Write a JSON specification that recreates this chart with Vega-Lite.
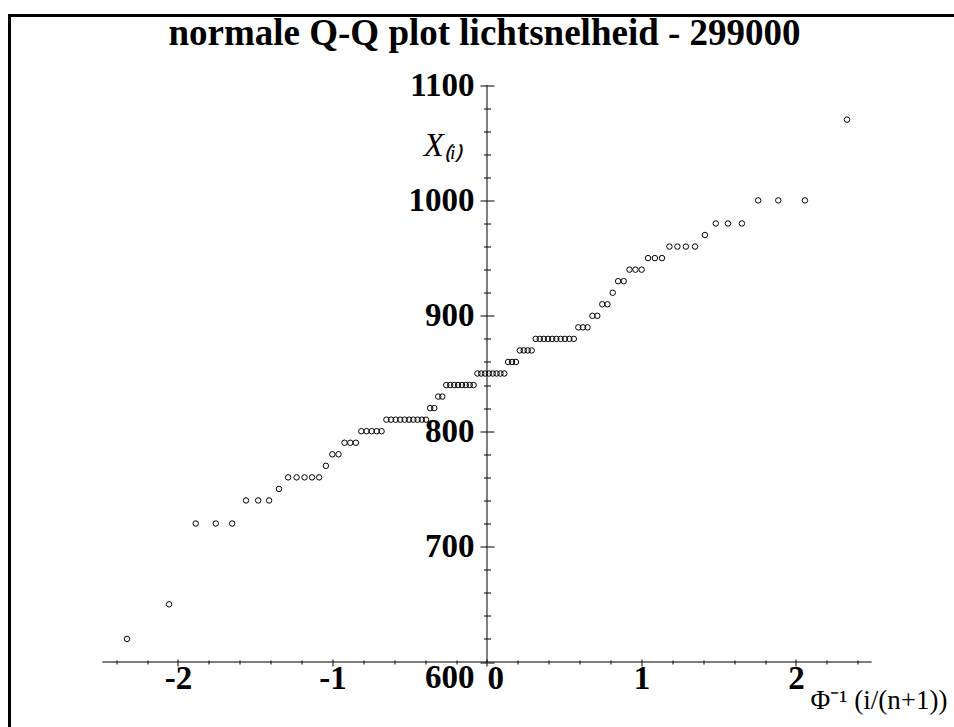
{
  "$schema": "https://vega.github.io/schema/vega-lite/v6.json",
  "autosize": "none",
  "padding": {"left": 9.5, "top": 15.5, "right": 0, "bottom": 0},
  "width": 1000,
  "height": 760,
  "background": "white",
  "title": {
    "text": "normale Q-Q plot lichtsnelheid - 299000",
    "font": "Liberation Serif",
    "fontSize": 37,
    "fontWeight": "bold",
    "color": "black",
    "anchor": "start",
    "dx": 159,
    "baseline": "alphabetic",
    "offset": -66
  },
  "datasets": {
    "qq": [
      {"z": -2.3300, "v": 620}, {"z": -2.0578, "v": 650}, {"z": -1.8852, "v": 720}, {"z": -1.7553, "v": 720},
      {"z": -1.6497, "v": 720}, {"z": -1.5598, "v": 740}, {"z": -1.4810, "v": 740}, {"z": -1.4104, "v": 740},
      {"z": -1.3463, "v": 750}, {"z": -1.2872, "v": 760}, {"z": -1.2323, "v": 760}, {"z": -1.1809, "v": 760},
      {"z": -1.1325, "v": 760}, {"z": -1.0865, "v": 760}, {"z": -1.0428, "v": 770}, {"z": -1.0010, "v": 780},
      {"z": -0.9608, "v": 780}, {"z": -0.9222, "v": 790}, {"z": -0.8848, "v": 790}, {"z": -0.8487, "v": 790},
      {"z": -0.8136, "v": 800}, {"z": -0.7796, "v": 800}, {"z": -0.7463, "v": 800}, {"z": -0.7139, "v": 800},
      {"z": -0.6823, "v": 800}, {"z": -0.6512, "v": 810}, {"z": -0.6209, "v": 810}, {"z": -0.5910, "v": 810},
      {"z": -0.5618, "v": 810}, {"z": -0.5329, "v": 810}, {"z": -0.5046, "v": 810}, {"z": -0.4766, "v": 810},
      {"z": -0.4489, "v": 810}, {"z": -0.4217, "v": 810}, {"z": -0.3947, "v": 810}, {"z": -0.3680, "v": 820},
      {"z": -0.3416, "v": 820}, {"z": -0.3154, "v": 830}, {"z": -0.2894, "v": 830}, {"z": -0.2636, "v": 840},
      {"z": -0.2379, "v": 840}, {"z": -0.2125, "v": 840}, {"z": -0.1872, "v": 840}, {"z": -0.1620, "v": 840},
      {"z": -0.1370, "v": 840}, {"z": -0.1119, "v": 840}, {"z": -0.0870, "v": 840}, {"z": -0.0621, "v": 850},
      {"z": -0.0373, "v": 850}, {"z": -0.0124, "v": 850}, {"z": 0.0124, "v": 850}, {"z": 0.0373, "v": 850},
      {"z": 0.0621, "v": 850}, {"z": 0.0870, "v": 850}, {"z": 0.1119, "v": 850}, {"z": 0.1370, "v": 860},
      {"z": 0.1620, "v": 860}, {"z": 0.1872, "v": 860}, {"z": 0.2125, "v": 870}, {"z": 0.2379, "v": 870},
      {"z": 0.2636, "v": 870}, {"z": 0.2894, "v": 870}, {"z": 0.3154, "v": 880}, {"z": 0.3416, "v": 880},
      {"z": 0.3680, "v": 880}, {"z": 0.3947, "v": 880}, {"z": 0.4217, "v": 880}, {"z": 0.4489, "v": 880},
      {"z": 0.4766, "v": 880}, {"z": 0.5046, "v": 880}, {"z": 0.5329, "v": 880}, {"z": 0.5618, "v": 880},
      {"z": 0.5910, "v": 890}, {"z": 0.6209, "v": 890}, {"z": 0.6512, "v": 890}, {"z": 0.6823, "v": 900},
      {"z": 0.7139, "v": 900}, {"z": 0.7463, "v": 910}, {"z": 0.7796, "v": 910}, {"z": 0.8136, "v": 920},
      {"z": 0.8487, "v": 930}, {"z": 0.8848, "v": 930}, {"z": 0.9222, "v": 940}, {"z": 0.9608, "v": 940},
      {"z": 1.0010, "v": 940}, {"z": 1.0428, "v": 950}, {"z": 1.0865, "v": 950}, {"z": 1.1325, "v": 950},
      {"z": 1.1809, "v": 960}, {"z": 1.2323, "v": 960}, {"z": 1.2872, "v": 960}, {"z": 1.3463, "v": 960},
      {"z": 1.4104, "v": 970}, {"z": 1.4810, "v": 980}, {"z": 1.5598, "v": 980}, {"z": 1.6497, "v": 980},
      {"z": 1.7553, "v": 1000}, {"z": 1.8852, "v": 1000}, {"z": 2.0578, "v": 1000}, {"z": 2.3300, "v": 1070}
    ],
    "hline": [{"a": -2.49, "b": 2.49, "v": 600}],
    "vline": [{"z": 0, "lo": 600, "hi": 1100}]
  },
  "layer": [
    {
      "data": {"name": "qq"},
      "mark": {"type": "point", "shape": "circle", "filled": false, "size": 30, "stroke": "black", "strokeWidth": 1, "opacity": 1},
      "encoding": {
        "x": {
          "field": "z", "type": "quantitative",
          "scale": {"domain": [-3.0906, 3.3819], "nice": false, "zero": false},
          "axis": {
            "orient": "bottom", "offset": -113.5, "domain": false, "grid": false,
            "values": [-2.4, -2.2, -2, -1.8, -1.6, -1.4, -1.2, -1, -0.8, -0.6, -0.4, -0.2, 0, 0.2, 0.4, 0.6, 0.8, 1, 1.2, 1.4, 1.6, 1.8, 2, 2.2, 2.4],
            "tickColor": "black", "tickWidth": 1,
            "tickSize": {"condition": {"test": "abs(datum.value - round(datum.value)) < 0.001", "value": 4}, "value": 2},
            "labelExpr": "abs(datum.value - round(datum.value)) < 0.001 ? '' + round(datum.value) : ''",
            "labelFont": "Liberation Serif", "labelFontSize": 33, "labelFontWeight": "bold", "labelColor": "black",
            "labelPadding": -4,
            "labelAlign": {"condition": {"test": "datum.value === 0", "value": "left"}, "value": "center"},
            "labelOverlap": false, "labelFlush": false,
            "title": "Φ⁻¹ (i/(n+1))",
            "titleFont": "Liberation Serif", "titleFontSize": 27, "titleFontWeight": "normal", "titleColor": "black",
            "titleX": 869, "titleY": 38, "titleAlign": "center", "titleBaseline": "middle", "titleAngle": 0
          }
        },
        "y": {
          "field": "v", "type": "quantitative",
          "scale": {"domain": [501.65, 1160.23], "nice": false, "zero": false},
          "axis": {
            "orient": "left", "offset": -477.5, "domain": false, "grid": false,
            "values": [600, 620, 640, 660, 680, 700, 720, 740, 760, 780, 800, 820, 840, 860, 880, 900, 920, 940, 960, 980, 1000, 1020, 1040, 1060, 1080, 1100],
            "tickColor": "black", "tickWidth": 1,
            "tickSize": {"condition": {"test": "datum.value % 100 === 0", "value": 7}, "value": 3.5},
            "labelExpr": "datum.value % 100 === 0 ? '' + datum.value : ''",
            "labelFont": "Liberation Serif", "labelFontSize": 33, "labelFontWeight": "bold", "labelColor": "black",
            "labelPadding": 6,
            "labelOffset": {"condition": {"test": "datum.value === 600", "value": 15}, "value": 0},
            "labelOverlap": false, "labelFlush": false,
            "title": "X₍ᵢ₎",
            "titleFont": "Liberation Serif", "titleFontSize": 33, "titleFontWeight": "normal", "titleFontStyle": "italic", "titleColor": "black",
            "titleX": -44, "titleY": 129.5, "titleAlign": "center", "titleBaseline": "middle", "titleAngle": 0
          }
        }
      }
    },
    {
      "data": {"name": "hline"},
      "mark": {"type": "rule", "color": "black", "strokeWidth": 1},
      "encoding": {
        "x": {
          "field": "a", "type": "quantitative",
          "scale": {"domain": [-3.0906, 3.3819], "nice": false, "zero": false},
          "axis": {
            "orient": "top", "offset": -646.5, "domain": false, "grid": false, "labels": false, "title": null,
            "values": [-2.4, -2.2, -2, -1.8, -1.6, -1.4, -1.2, -1, -0.8, -0.6, -0.4, -0.2, 0, 0.2, 0.4, 0.6, 0.8, 1, 1.2, 1.4, 1.6, 1.8, 2, 2.2, 2.4],
            "tickColor": "black", "tickWidth": 1,
            "tickSize": {"condition": {"test": "abs(datum.value - round(datum.value)) < 0.001", "value": 3}, "value": 2}
          }
        },
        "x2": {"field": "b"},
        "y": {
          "field": "v", "type": "quantitative",
          "scale": {"domain": [501.65, 1160.23], "nice": false, "zero": false},
          "axis": {
            "orient": "right", "offset": -522.5, "domain": false, "grid": false, "labels": false, "title": null,
            "values": [600, 620, 640, 660, 680, 700, 720, 740, 760, 780, 800, 820, 840, 860, 880, 900, 920, 940, 960, 980, 1000, 1020, 1040, 1060, 1080, 1100],
            "tickColor": "black", "tickWidth": 1,
            "tickSize": {"condition": {"test": "datum.value % 100 === 0", "value": 7}, "value": 3.5}
          }
        }
      }
    },
    {
      "data": {"name": "vline"},
      "mark": {"type": "rule", "color": "black", "strokeWidth": 1},
      "encoding": {
        "x": {"field": "z", "type": "quantitative", "scale": {"domain": [-3.0906, 3.3819], "nice": false, "zero": false}, "axis": null},
        "y": {"field": "lo", "type": "quantitative", "scale": {"domain": [501.65, 1160.23], "nice": false, "zero": false}, "axis": null},
        "y2": {"field": "hi"}
      }
    }
  ],
  "resolve": {"axis": {"x": "independent", "y": "independent"}},
  "config": {
    "view": {"stroke": "black", "strokeWidth": 3},
    "axis": {"grid": false}
  }
}
